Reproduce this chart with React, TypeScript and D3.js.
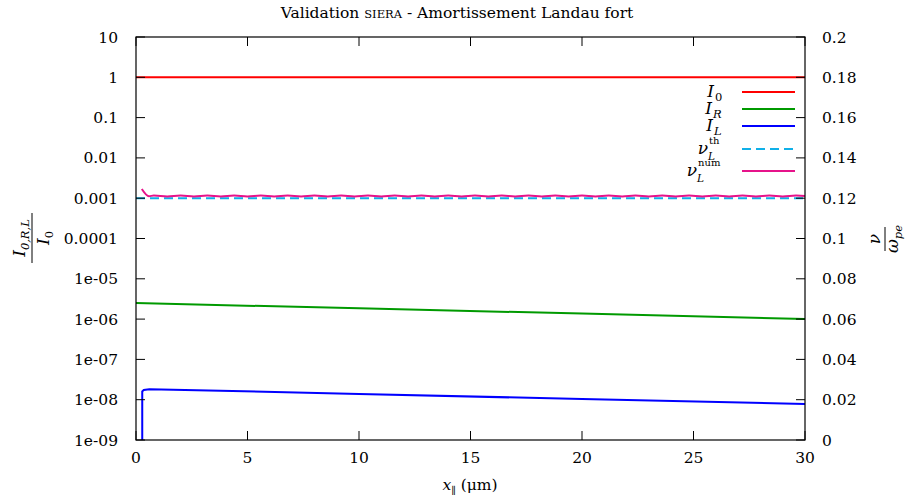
import React from "react";
import * as d3 from "d3";

const xTicks = [0, 5, 10, 15, 20, 25, 30];
const yTicks = [1e-9, 1e-8, 1e-7, 1e-6, 1e-5, 1e-4, 1e-3, 1e-2, 1e-1, 1, 10];
const yTickLabels = ["1e-09", "1e-08", "1e-07", "1e-06", "1e-05", "0.0001", "0.001", "0.01", "0.1", "1", "10"];
const y2Ticks = [0, 0.02, 0.04, 0.06, 0.08, 0.1, 0.12, 0.14, 0.16, 0.18, 0.2];
const y2TickLabels = ["0", "0.02", "0.04", "0.06", "0.08", "0.1", "0.12", "0.14", "0.16", "0.18", "0.2"];

const i0X = [0, 30];
const i0Y = [1, 1];
const iRX = [0, 10, 20, 30];
const iRY = [2.5e-6, 1.85e-6, 1.37e-6, 1.0e-6];
const iLX = [0.28, 0.28, 0.35, 0.6, 10, 20, 30];
const iLY = [1e-9, 1.6e-8, 1.75e-8, 1.82e-8, 1.39e-8, 1.04e-8, 7.8e-9];
const nuThX = [0, 30];
const nuThY = [0.12, 0.12];
const nuNumX = [0.26, 0.58, 0.8, 1.4, 2.0, 2.6, 3.2, 3.8, 4.4, 5.0, 5.6, 6.2, 6.8, 7.4, 8.0, 8.6, 9.2, 9.8, 10.4, 11.0, 11.6, 12.2, 12.8, 13.4, 14.0, 14.6, 15.2, 15.8, 16.4, 17.0, 17.6, 18.2, 18.8, 19.4, 20.0, 20.6, 21.2, 21.8, 22.4, 23.0, 23.6, 24.2, 24.8, 25.4, 26.0, 26.6, 27.2, 27.8, 28.4, 29.0, 29.6, 30.0];
const nuNumY = [0.1246, 0.121, 0.1213, 0.1209, 0.1213, 0.1209, 0.1213, 0.1209, 0.1213, 0.1209, 0.1213, 0.1209, 0.1213, 0.1209, 0.1213, 0.1209, 0.1213, 0.1209, 0.1213, 0.1209, 0.1213, 0.1209, 0.1213, 0.1209, 0.1213, 0.1209, 0.1213, 0.1209, 0.1213, 0.1209, 0.1213, 0.1209, 0.1213, 0.1209, 0.1213, 0.1209, 0.1213, 0.1209, 0.1213, 0.1209, 0.1213, 0.1209, 0.1213, 0.1209, 0.1213, 0.1209, 0.1213, 0.1209, 0.1213, 0.1209, 0.1213, 0.1211];

const FONT = "'DejaVu Serif', serif";
const W = 910, H = 502;
const L = 136, R = 805, T = 37, B = 440;

export default function App() {
  const x = d3.scaleLinear().domain([0, 30]).range([L, R]);
  const y = d3.scaleLog().domain([1e-9, 10]).range([B, T]);
  const y2 = d3.scaleLinear().domain([0, 0.2]).range([B, T]);
  const lineLog = (xs: number[], ys: number[]) =>
    d3.line<number>().x((_, i) => x(xs[i])).y((d) => y(d))(ys) || "";
  const lineLin = (xs: number[], ys: number[], curve = d3.curveLinear) =>
    d3.line<number>().x((_, i) => x(xs[i])).y((d) => y2(d)).curve(curve)(ys) || "";
  const tick = 9;
  const fs = 15.5;

  const legend = [
    { main: "I", sub: "0", sup: "", color: "#ff0000", dash: "", mainEnd: 714, y: 92 },
    { main: "I", sub: "R", sup: "", color: "#009a00", dash: "", mainEnd: 712, y: 109 },
    { main: "I", sub: "L", sup: "", color: "#0000ff", dash: "", mainEnd: 713, y: 126 },
    { main: "ν", sub: "L", sup: "th", color: "#10b0e8", dash: "9,5", mainEnd: 708, y: 149 },
    { main: "ν", sub: "L", sup: "num", color: "#e6138a", dash: "", mainEnd: 697, y: 171 },
  ];

  return (
    <svg width={W} height={H} style={{ position: "absolute", left: 0, top: 0, background: "#fff" }}>
      <rect x={0} y={0} width={W} height={H} fill="#fff" />
      <g style={{ fontFamily: FONT }}>
        <text x={457} y={18} textAnchor="middle" fontSize={15.5}>
          Validation <tspan fontSize={11.5}>SIERA</tspan> - Amortissement Landau fort
        </text>

        {xTicks.map((t) => (
          <text key={"xl" + t} x={x(t)} y={463} textAnchor="middle" fontSize={fs}>{t}</text>
        ))}
        {yTicks.map((t, i) => (
          <text key={"yl" + i} x={118} y={y(t) + 5.5} textAnchor="end" fontSize={fs}>{yTickLabels[i]}</text>
        ))}
        {y2Ticks.map((t, i) => (
          <text key={"y2l" + i} x={822} y={y2(t) + 5.5} textAnchor="start" fontSize={fs}>{y2TickLabels[i]}</text>
        ))}

        <text x={470} y={490} textAnchor="middle" fontSize={fs}>
          <tspan fontStyle="italic">x</tspan>
          <tspan fontSize={10} dy={4}>∥</tspan>
          <tspan dy={-4}> (μm)</tspan>
        </text>

        <g transform="translate(32,238) rotate(-90)">
          <line x1={-25} x2={25} y1={0} y2={0} stroke="#000" strokeWidth={1} />
          <text x={0} y={-7} textAnchor="middle" fontSize={17}>
            <tspan fontStyle="italic">I</tspan>
            <tspan fontSize={11.5} dy={4} fontStyle="italic">0,R,L</tspan>
          </text>
          <text x={0} y={17} textAnchor="middle" fontSize={17}>
            <tspan fontStyle="italic">I</tspan>
            <tspan fontSize={11.5} dy={4}>0</tspan>
          </text>
        </g>

        <g transform="translate(885,239) rotate(-90)">
          <line x1={-12} x2={12} y1={0} y2={0} stroke="#000" strokeWidth={1} />
          <text x={0} y={-5} textAnchor="middle" fontSize={17} fontStyle="italic">ν</text>
          <text x={0} y={13} textAnchor="middle" fontSize={17}>
            <tspan fontStyle="italic">ω</tspan>
            <tspan fontSize={11.5} dy={4} fontStyle="italic">pe</tspan>
          </text>
        </g>

        {legend.map((e, i) => (
          <g key={"lgt" + i}>
            <text x={e.mainEnd} y={e.y + 5} textAnchor="end" fontSize={17} fontStyle="italic">{e.main}</text>
            {e.sup ? (
              <>
                <text x={e.mainEnd + 1} y={e.y - 5} fontSize={10}>{e.sup}</text>
                <text x={e.mainEnd} y={e.y + 11} fontSize={10.5} fontStyle="italic">{e.sub}</text>
              </>
            ) : (
              <text x={e.mainEnd + 1} y={e.y + 9} fontSize={11.5} fontStyle={e.sub === "0" ? "normal" : "italic"}>{e.sub}</text>
            )}
          </g>
        ))}
      </g>

      <g fill="none" strokeWidth={2}>
        <path d={lineLog(i0X, i0Y)} stroke="#ff0000" />
        <path d={lineLog(iRX, iRY)} stroke="#009a00" />
        <path d={lineLog(iLX, iLY)} stroke="#0000ff" />
        <path d={lineLin(nuThX, nuThY)} stroke="#10b0e8" strokeDasharray="9,5" />
        <path d={lineLin(nuNumX, nuNumY, d3.curveMonotoneX)} stroke="#e6138a" />
      </g>

      <rect x={L} y={T} width={R - L} height={B - T} fill="none" stroke="#000" strokeWidth={1.2} />

      {xTicks.map((t) => (
        <g key={"x" + t}>
          <line x1={x(t)} x2={x(t)} y1={B} y2={B - tick} stroke="#000" />
          <line x1={x(t)} x2={x(t)} y1={T} y2={T + tick} stroke="#000" />
        </g>
      ))}
      {yTicks.map((t, i) => (
        <line key={"y" + i} x1={L} x2={L + tick} y1={y(t)} y2={y(t)} stroke="#000" />
      ))}
      {y2Ticks.map((t, i) => (
        <line key={"y2" + i} x1={R} x2={R - tick} y1={y2(t)} y2={y2(t)} stroke="#000" />
      ))}

      {legend.map((e, i) => (
        <line key={"lgl" + i} x1={742} x2={795} y1={e.y} y2={e.y} stroke={e.color} strokeWidth={2} strokeDasharray={e.dash || undefined} />
      ))}
    </svg>
  );
}
